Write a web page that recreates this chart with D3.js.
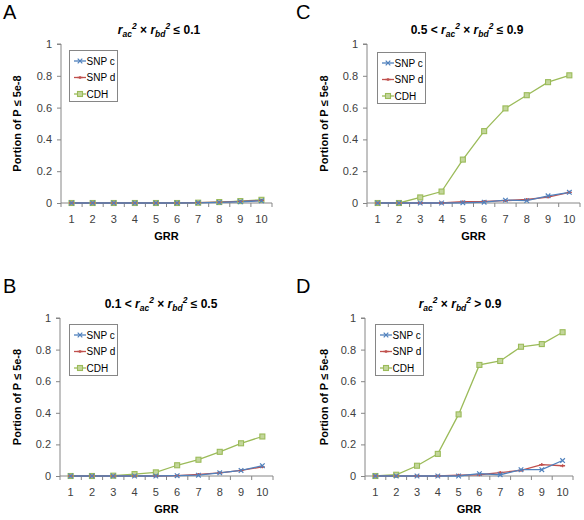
<!DOCTYPE html>
<html><head><meta charset="utf-8">
<script src="https://cdn.jsdelivr.net/npm/d3@7"></script>
<style>
body{margin:0;background:#fff;}
svg{display:block;font-family:"Liberation Sans",Arial,sans-serif;}
</style></head>
<body>
<svg id="c" width="584" height="520"></svg>
<script>
const categories = [1,2,3,4,5,6,7,8,9,10];
const seriesNames = ["SNP c","SNP d","CDH"];
const yTicks = [0,0.2,0.4,0.6,0.8,1];

const snpcA = [0,0,0,0,0,0,0.001,0.004,0.008,0.014];
const snpdA = [0,0,0,0,0,0,0.002,0.005,0.01,0.016];
const cdhA  = [0,0,0,0,0,0,0.002,0.006,0.012,0.02];

const snpcB = [0,0,0,0,0,0.002,0.005,0.02,0.035,0.065];
const snpdB = [0,0,0,0,0,0.002,0.01,0.02,0.035,0.058];
const cdhB  = [0,0,0.002,0.012,0.023,0.068,0.103,0.153,0.207,0.25];

const snpcC = [0,0,0,0,0.001,0.005,0.018,0.015,0.045,0.067];
const snpdC = [0,0,0,0,0.008,0.01,0.015,0.022,0.037,0.067];
const cdhC  = [0,0,0.035,0.072,0.273,0.452,0.595,0.678,0.76,0.803];

const snpcD = [0,0,0,0,0,0.015,0.008,0.04,0.04,0.098];
const snpdD = [0,0,0,0,0.005,0.008,0.022,0.035,0.072,0.065];
const cdhD  = [0,0.008,0.065,0.14,0.39,0.703,0.728,0.818,0.835,0.91];

const colors = ["#4F81BD","#C0504D","#9BBB59"];

const panels = [
  {letter:"A", lx:3, ly:19, x0:61, x1:272, yTop:44, yBot:203, title:"le01", tx:159, ty:34, ylx:17,
   legX:69, legY:50, data:[snpcA,snpdA,cdhA]},
  {letter:"C", lx:296, ly:19, x0:367, x1:580, yTop:44, yBot:203, title:"mid2", tx:467, ty:34, ylx:324,
   legX:377, legY:52, data:[snpcC,snpdC,cdhC]},
  {letter:"B", lx:3, ly:293, x0:60, x1:273, yTop:318, yBot:476, title:"mid1", tx:161, ty:308, ylx:17,
   legX:69, legY:324, data:[snpcB,snpdB,cdhB]},
  {letter:"D", lx:296, ly:293, x0:365, x1:573, yTop:318, yBot:476, title:"gt09", tx:460, ty:308, ylx:324,
   legX:375, legY:324, data:[snpcD,snpdD,cdhD]}
];

const svg = d3.select("#c");
const axisCol = "#868686";
const txtCol = "#404040";

function writeTitle(t, kind){
  const sub = (s)=>{ t.append("tspan").attr("font-style","italic").text("r");
    t.append("tspan").attr("font-style","italic").attr("font-size","8.5px").attr("baseline-shift","-3").text(s);
    t.append("tspan").attr("font-style","italic").attr("font-size","8.5px").attr("baseline-shift","5").text("2");};
  if(kind==="mid1") t.append("tspan").text("0.1 < ");
  if(kind==="mid2") t.append("tspan").text("0.5 < ");
  sub("ac");
  t.append("tspan").text(" \u00d7 ");
  sub("bd");
  if(kind==="le01") t.append("tspan").text(" \u2264 0.1");
  if(kind==="mid1") t.append("tspan").text(" \u2264 0.5");
  if(kind==="mid2") t.append("tspan").text(" \u2264 0.9");
  if(kind==="gt09") t.append("tspan").text(" > 0.9");
}

function marker(g, i, cx, cy){
  if(i===0){
    g.append("path").attr("d",`M${cx-2.3},${cy-2.3}L${cx+2.3},${cy+2.3}M${cx-2.3},${cy+2.3}L${cx+2.3},${cy-2.3}`)
      .attr("stroke",colors[0]).attr("stroke-width",1.2);
  } else if(i===1){
    g.append("path").attr("d",`M${cx-2.5},${cy}L${cx+2.5},${cy}M${cx},${cy-1.5}L${cx},${cy+1.5}`)
      .attr("stroke",colors[1]).attr("stroke-width",1.3);
  } else {
    g.append("rect").attr("x",cx-2.5).attr("y",cy-2.5).attr("width",5).attr("height",5)
      .attr("fill","#c3d69b").attr("stroke",colors[2]).attr("stroke-width",1.1);
  }
}

panels.forEach(p=>{
  const g = svg.append("g");
  const x = d3.scaleBand().domain(categories).range([p.x0,p.x1]);
  const y = d3.scaleLinear().domain([0,1]).range([p.yBot,p.yTop]);

  g.append("text").attr("x",p.lx).attr("y",p.ly).attr("font-size","20px").attr("fill","#000").text(p.letter);

  const tt = g.append("text").attr("x",p.tx).attr("y",p.ty).attr("text-anchor","middle")
    .attr("font-size","12px").attr("font-weight","bold").attr("fill","#000");
  writeTitle(tt,p.title);

  // y axis
  const ya = g.append("g").attr("transform",`translate(${p.x0},0)`)
    .call(d3.axisLeft(y).tickValues(yTicks).tickFormat(d3.format("~g")).tickSize(4).tickPadding(5));
  ya.select(".domain").attr("stroke",axisCol).attr("d",`M-4,${p.yTop}H0V${p.yBot}`);
  ya.selectAll(".tick line").attr("stroke",axisCol);
  ya.selectAll(".tick text").attr("font-size","11px").attr("fill",txtCol).attr("font-family","Liberation Sans, Arial, sans-serif");

  // x axis
  const xa = g.append("g").attr("transform",`translate(0,${p.yBot})`)
    .call(d3.axisBottom(x).tickSize(0).tickPadding(12));
  xa.select(".domain").attr("stroke",axisCol).attr("d",`M${p.x0},0H${p.x1}`);
  xa.selectAll(".tick text").attr("font-size","11px").attr("fill",txtCol).attr("font-family","Liberation Sans, Arial, sans-serif");
  const bounds = categories.map(c=>x(c)).concat([x(categories[categories.length-1])+x.bandwidth()]);
  xa.selectAll(".bt").data(bounds).enter().append("line")
    .attr("x1",d=>d).attr("x2",d=>d).attr("y1",0).attr("y2",4).attr("stroke",axisCol);

  g.append("text").attr("x",(p.x0+p.x1)/2).attr("y",p.yBot+37).attr("text-anchor","middle")
    .attr("font-size","11px").attr("font-weight","bold").attr("fill","#000").text("GRR");

  g.append("text").attr("transform",`translate(${p.ylx},${(p.yTop+p.yBot)/2}) rotate(-90)`)
    .attr("text-anchor","middle").attr("dy","0.35em").attr("font-size","11px").attr("font-weight","bold")
    .attr("font-family","Liberation Sans Narrow, Liberation Sans, sans-serif")
    .attr("fill","#000").text("Portion of P \u2264 5e-8");

  // lines
  const line = d3.line().x((d,i)=>x(categories[i])+x.bandwidth()/2).y(d=>y(d));
  [2,1,0].forEach(i=>{
    g.append("path").datum(p.data[i]).attr("d",line).attr("fill","none")
      .attr("stroke",colors[i]).attr("stroke-width",1.3);
  });
  [2,1,0].forEach(i=>{
    p.data[i].forEach((v,k)=>marker(g,i,x(categories[k])+x.bandwidth()/2,y(v)));
  });

  // legend
  const lg = g.append("g").attr("transform",`translate(${p.legX},${p.legY})`);
  lg.append("rect").attr("x",0.5).attr("y",0.5).attr("width",48).attr("height",51)
    .attr("fill","#fff").attr("stroke",axisCol);
  seriesNames.forEach((s,i)=>{
    const cy = 11+i*16.5;
    lg.append("line").attr("x1",5).attr("x2",17).attr("y1",cy).attr("y2",cy).attr("stroke",colors[i]).attr("stroke-width",1.3);
    marker(lg,i,11,cy);
    lg.append("text").attr("x",17.5).attr("y",cy).attr("dy","0.35em").attr("font-size","10px")
      .attr("fill","#000").text(s);
  });
});
</script>
</body></html>
